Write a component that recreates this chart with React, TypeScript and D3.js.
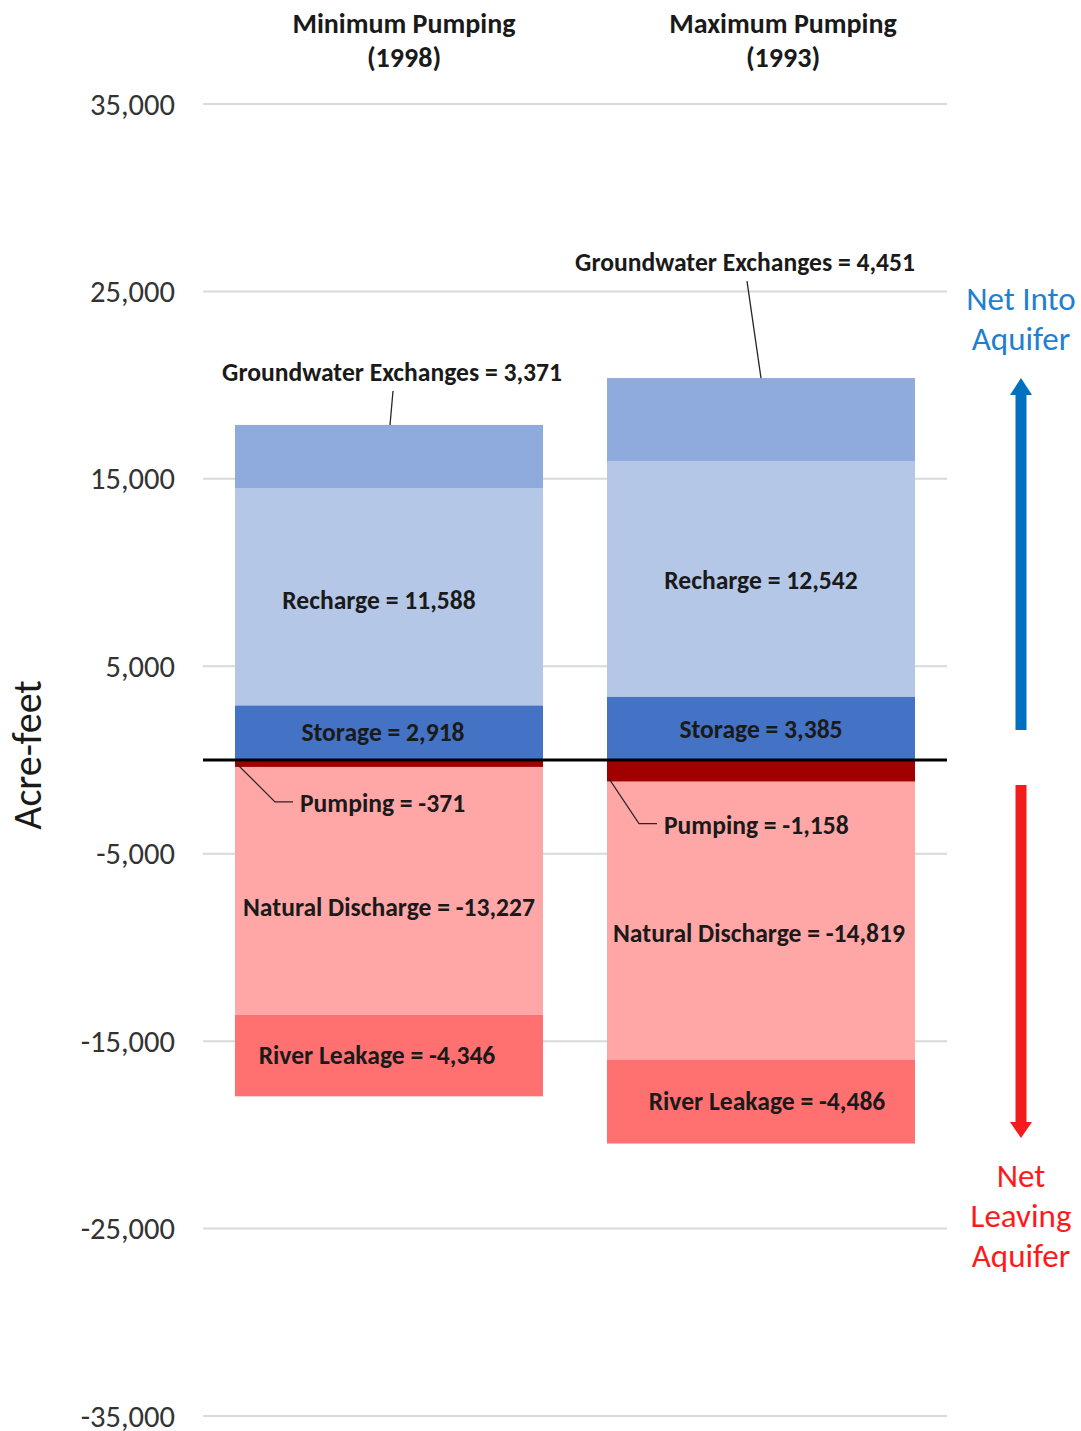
import React from "react";
import * as d3 from "d3";

const categories = ["Minimum Pumping|(1998)", "Maximum Pumping|(1993)"];
const keys = ["Storage", "Recharge", "Groundwater Exchanges", "Pumping", "Natural Discharge", "River Leakage"];
const storage = [2918, 3385];
const recharge = [11588, 12542];
const groundwater = [3371, 4451];
const pumping = [-371, -1158];
const naturalDischarge = [-13227, -14819];
const riverLeakage = [-4346, -4486];
const yTicks = [35000, 25000, 15000, 5000, -5000, -15000, -25000, -35000];

const colors: Record<string, string> = {
  Storage: "#4472c4",
  Recharge: "#b4c7e7",
  "Groundwater Exchanges": "#8faadc",
  Pumping: "#a00000",
  "Natural Discharge": "#ffa7a7",
  "River Leakage": "#ff7171",
};

// label offsets (pixels) per key per category: [dx, dy]
const labelOffsets: Record<string, [number, number][]> = {
  Storage: [[-6, 0], [0, 1]],
  Recharge: [[-10, 4], [0, 1]],
  "Groundwater Exchanges": [[3, 0], [-16, 0]],
  Pumping: [[0, 0], [0, 0]],
  "Natural Discharge": [[0, 17], [-2, 13]],
  "River Leakage": [[-12, 0], [6, 0]],
};

const FONT = "Calibri, Carlito, 'Open Sans', sans-serif";

export default function App() {
  const width = 1081;
  const height = 1431;
  const left = 203;
  const right = 947;

  const y = d3.scaleLinear().domain([-35000, 35000]).range([1416, 104]);
  const x = d3
    .scaleBand<number>()
    .domain([0, 1])
    .range([left, right])
    .paddingInner(0.172)
    .paddingOuter(0.086);

  const rows = categories.map((c, i) => ({
    cat: i,
    Storage: storage[i],
    Recharge: recharge[i],
    "Groundwater Exchanges": groundwater[i],
    Pumping: pumping[i],
    "Natural Discharge": naturalDischarge[i],
    "River Leakage": riverLeakage[i],
  }));
  const series = d3
    .stack<any>()
    .keys(keys)
    .offset(d3.stackOffsetDiverging)(rows);

  const f = d3.format(",");
  const fmt = (v: number) => f(v).replace("\u2212", "-");
  const bw = x.bandwidth();
  const LS = 25.6;

  const labels: React.ReactNode[] = [];
  series.forEach((s) => {
    s.forEach((d, i) => {
      const key = s.key;
      const val = (rows[i] as any)[key] as number;
      const x0 = x(i)!;
      const cx = x0 + bw / 2;
      const yTop = y(Math.max(d[0], d[1]));
      const yBot = y(Math.min(d[0], d[1]));
      const text = `${key} = ${fmt(val)}`;
      const [dx, dy] = labelOffsets[key][i];
      if (key === "Groundwater Exchanges") {
        const ly = i === 0 ? yTop - 52 : yTop - 116;
        const lineStart = i === 0 ? [cx + 4, ly + 18] : [cx - 14, ly + 19];
        const lineEnd = i === 0 ? [cx + 1, yTop] : [cx, yTop];
        labels.push(
          <g key={key + i}>
            <line x1={lineStart[0]} y1={lineStart[1]} x2={lineEnd[0]} y2={lineEnd[1]} stroke="#262626" strokeWidth={1.3} />
            <text x={cx + dx} y={ly} textAnchor="middle" dominantBaseline="central" fontWeight={700} fontSize={LS} fill="#1a1a1a">{text}</text>
          </g>
        );
      } else if (key === "Pumping") {
        const ly = i === 0 ? yBot + 37 : yBot + 44;
        const tx = i === 0 ? x0 + 65 : x0 + 57;
        labels.push(
          <g key={key + i}>
            <polyline
              points={`${x0 + 2},${yBot - 3} ${tx - 25},${ly - 2} ${tx - 7},${ly - 2}`}
              fill="none"
              stroke="#262626"
              strokeWidth={1.2}
            />
            <text x={tx} y={ly} dominantBaseline="central" fontWeight={700} fontSize={LS} fill="#1a1a1a">{text}</text>
          </g>
        );
      } else {
        labels.push(
          <text key={key + i} x={cx + dx} y={(yTop + yBot) / 2 + dy} textAnchor="middle" dominantBaseline="central" fontWeight={700} fontSize={LS} fill="#1a1a1a">
            {text}
          </text>
        );
      }
    });
  });

  const arrowX = 1021;

  return (
    <svg width={width} height={height} style={{ display: "block", position: "absolute", left: 0, top: 0 }} fontFamily={FONT}>
      <rect width={width} height={height} fill="#fff" />
      {yTicks.map((t) => (
        <g key={t}>
          <line x1={left} x2={right} y1={y(t)} y2={y(t)} stroke="#d9d9d9" strokeWidth={2} />
          <text x={175} y={y(t)} textAnchor="end" dominantBaseline="central" fontSize={30.5} fill="#333">
            {fmt(t)}
          </text>
        </g>
      ))}
      <text transform={`translate(27,${y(0) - 5}) rotate(-90)`} textAnchor="middle" dominantBaseline="central" fontSize={40} fill="#1a1a1a">
        Acre-feet
      </text>
      {categories.map((c, i) => (
        <text key={c} x={x(i)! + bw / 2 + (i === 0 ? 15 : 22)} y={23} textAnchor="middle" fontWeight={700} fontSize={28} fill="#1a1a1a">
          {c.split("|").map((line, j) => (
            <tspan key={j} x={x(i)! + bw / 2 + (i === 0 ? 15 : 22)} dy={j === 0 ? "0.35em" : 34}>
              {line}
            </tspan>
          ))}
        </text>
      ))}
      {series.map((s) =>
        s.map((d, i) => (
          <rect
            key={s.key + i}
            x={x(i)}
            width={bw}
            y={y(Math.max(d[0], d[1]))}
            height={Math.abs(y(d[0]) - y(d[1]))}
            fill={colors[s.key]}
          />
        ))
      )}
      <line x1={left} x2={right} y1={y(0)} y2={y(0)} stroke="#000" strokeWidth={3} />
      {labels}
      {/* Net into arrow */}
      <line x1={arrowX} x2={arrowX} y1={730} y2={395} stroke="#0070c0" strokeWidth={11} />
      <path d={`M${arrowX - 11},${395} L${arrowX},${378} L${arrowX + 11},${395} Z`} fill="#0070c0" />
      <text x={arrowX} textAnchor="middle" fontSize={33} fill="#1f7fd0">
        <tspan x={arrowX} y={299} dominantBaseline="central">Net Into</tspan>
        <tspan x={arrowX} y={339} dominantBaseline="central">Aquifer</tspan>
      </text>
      <line x1={arrowX} x2={arrowX} y1={785} y2={1122} stroke="#f21c1c" strokeWidth={11} />
      <path d={`M${arrowX - 11},${1122} L${arrowX},${1138} L${arrowX + 11},${1122} Z`} fill="#f21c1c" />
      <text x={arrowX} textAnchor="middle" fontSize={33} fill="#ff1a1a">
        <tspan x={arrowX} y={1176} dominantBaseline="central">Net</tspan>
        <tspan x={arrowX} y={1216} dominantBaseline="central">Leaving</tspan>
        <tspan x={arrowX} y={1256} dominantBaseline="central">Aquifer</tspan>
      </text>
    </svg>
  );
}
